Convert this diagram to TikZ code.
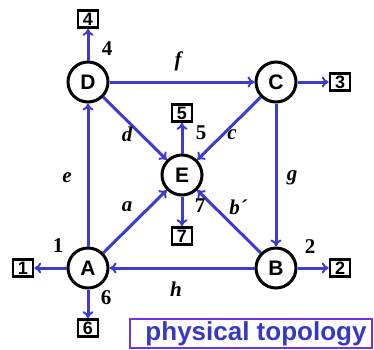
\documentclass[tikz,border=0pt]{standalone}
\usepackage{fontspec}
\setmainfont{Liberation Serif}
\setsansfont{Liberation Sans}
\usetikzlibrary{arrows.meta}
\definecolor{edgeblue}{RGB}{60,60,210}
\definecolor{boxviolet}{RGB}{110,50,240}
\definecolor{textblue}{RGB}{55,55,200}
\begin{document}
\begin{tikzpicture}[x=1pt,y=-1pt,
  vtx/.style={circle,draw=black,line width=3pt,fill=white,minimum size=40pt,inner sep=0pt,
    font=\fontsize{21}{21}\selectfont\sffamily\bfseries},
  port/.style={draw=black,line width=2.6pt,fill=white,minimum width=20pt,minimum height=17pt,inner sep=0pt,
    font=\fontsize{18}{18}\selectfont\sffamily\bfseries},
  lab/.style={font=\fontsize{21}{21}\selectfont\bfseries},
  ilab/.style={font=\fontsize{21}{21}\selectfont\bfseries\itshape},
  link/.style={draw=edgeblue,line width=3pt,-{To[length=7pt,width=11pt,line width=2pt]}}
]
\useasboundingbox (0,0) rectangle (374,349);
\node[vtx] (A) at (88,268) {A};
\node[vtx] (B) at (276,268) {B};
\node[vtx] (C) at (276,82) {C};
\node[vtx] (D) at (88,82) {D};
\node[vtx] (E) at (182,175) {E};
\node[port] (p4) at (88,19) {4};
\node[port] (p3) at (340,82) {3};
\node[port] (p5) at (182,113) {5};
\node[port] (p7) at (182,236) {7};
\node[port] (p1) at (23,268) {1};
\node[port] (p2) at (340,268) {2};
\node[port] (p6) at (88,328) {6};
\draw[link] (D) -- (p4);
\draw[link] (D) -- (C);
\draw[link] (D) -- (E);
\draw[link] (C) -- (p3);
\draw[link] (C) -- (E);
\draw[link] (C) -- (B);
\draw[link] (E) -- (p5);
\draw[link] (E) -- (p7);
\draw[link] (A) -- (D);
\draw[link] (A) -- (E);
\draw[link] (B) -- (E);
\draw[link] (B) -- (A);
\draw[link] (A) -- (p1);
\draw[link] (B) -- (p2);
\draw[link] (A) -- (p6);
\node[lab] (l4) at (107,49) {4};
\node[ilab] (lf) at (178,61) {f};
\node[ilab] (ld) at (127,134) {d};
\node[lab] (l5) at (201,133) {5};
\node[ilab] (lc) at (232,135) {c};
\node[ilab] (le) at (67,178) {e};
\node[ilab] (lg) at (292,178) {g};
\node[ilab] (la) at (127,207) {a};
\node[lab] (l7) at (200,206) {7};
\node[ilab] (lb) at (238,207) {b´};
\node[lab] (l1) at (58,246) {1};
\node[lab] (l2) at (310,247) {2};
\node[ilab] (lh) at (176,289) {h};
\node[lab] (l6) at (106,298) {6};
\node[draw=boxviolet,line width=2.2pt,minimum width=242pt,minimum height=29pt,inner sep=0pt] (tbox) at (251,333.5) {};
\node[text=textblue,font=\fontsize{26}{26}\selectfont\sffamily\bfseries,inner sep=0pt] (title) at (256,333.5) {physical topology};
\end{tikzpicture}
\end{document}
